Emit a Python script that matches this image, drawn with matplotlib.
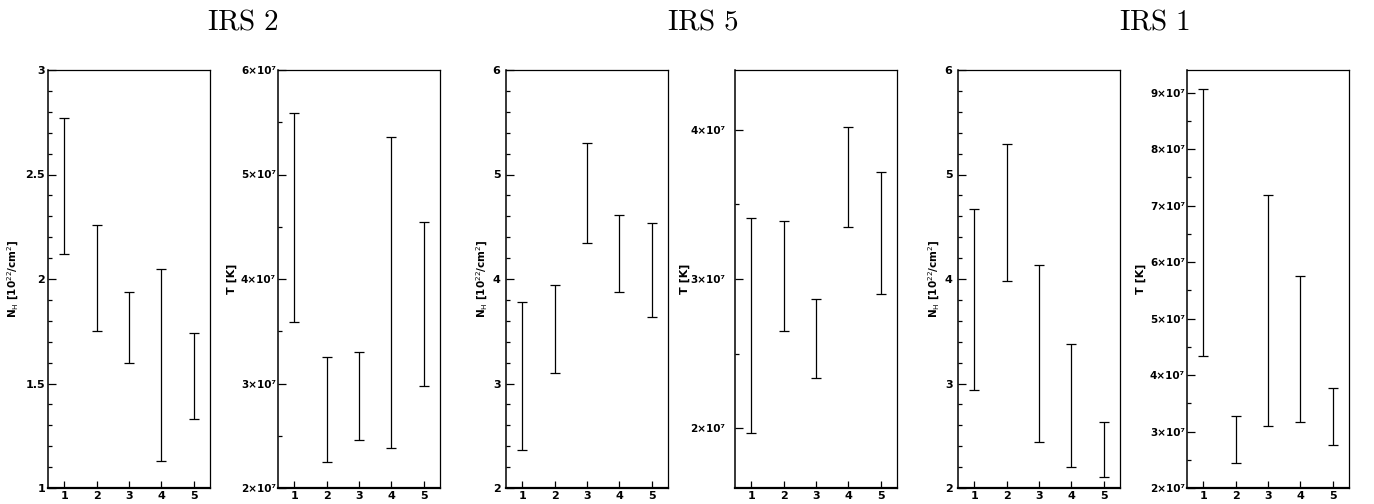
import matplotlib
matplotlib.use("Agg")
import matplotlib.pyplot as plt
from matplotlib.ticker import MultipleLocator, FuncFormatter
import numpy as np

plt.rcParams['mathtext.fontset'] = 'dejavusans'

spectra = [1, 2, 3, 4, 5]

# IRS 2
irs2_nh_hi = [2.77, 2.26, 1.94, 2.05, 1.74]
irs2_nh_lo = [2.12, 1.75, 1.60, 1.13, 1.33]
irs2_t_hi = [5.585e7, 3.25e7, 3.30e7, 5.36e7, 4.55e7]
irs2_t_lo = [3.59e7, 2.245e7, 2.455e7, 2.385e7, 2.98e7]

# IRS 5
irs5_nh_hi = [3.78, 3.94, 5.30, 4.61, 4.54]
irs5_nh_lo = [2.36, 3.10, 4.34, 3.88, 3.64]
irs5_t_hi = [3.41e7, 3.39e7, 2.865e7, 4.02e7, 3.72e7]
irs5_t_lo = [1.97e7, 2.65e7, 2.335e7, 3.345e7, 2.90e7]

# IRS 1
irs1_nh_hi = [4.67, 5.29, 4.13, 3.38, 2.63]
irs1_nh_lo = [2.94, 3.98, 2.44, 2.20, 2.105]
irs1_t_hi = [9.07e7, 3.28e7, 7.18e7, 5.76e7, 3.77e7]
irs1_t_lo = [4.34e7, 2.45e7, 3.09e7, 3.16e7, 2.77e7]

titles = ['IRS 2', 'IRS 5', 'IRS 1']

W, H = 1374, 504
fig = plt.figure(figsize=(W / 100, H / 100), dpi=100)

lefts = [48, 278, 506, 735, 958, 1187]
pw = 162
top, bottom = 70, 488

panels = [
    (irs2_nh_lo, irs2_nh_hi, 'nh', (1, 3), 0.5, 0.1, 2, 3),
    (irs2_t_lo, irs2_t_hi, 't', (2e7, 6e7), 1e7, 0.5e7, 1.5, 3),
    (irs5_nh_lo, irs5_nh_hi, 'nh', (2, 6), 1, 0.2, 4, 2),
    (irs5_t_lo, irs5_t_hi, 't', (1.6e7, 4.4e7), 1e7, 0.5e7, 7, 0),
    (irs1_nh_lo, irs1_nh_hi, 'nh', (2, 6), 1, 0.2, 4, 2),
    (irs1_t_lo, irs1_t_hi, 't', (2e7, 9.4e7), 1e7, 0.5e7, 1.5, 3),
]


def tfmt(v, pos):
    m = int(round(v / 1e7))
    return f'{m}\u00d710\u2077'


def nhfmt(v, pos):
    if abs(v - round(v)) < 1e-9:
        return f'{int(round(v))}'
    return f'{v:g}'


for i, (lo, hi, kind, ylim, major, minor, pad, lpad) in enumerate(panels):
    ax = fig.add_axes([lefts[i] / W, (H - bottom) / H, pw / W, (bottom - top) / H])
    lo = np.array(lo)
    hi = np.array(hi)
    mid = (lo + hi) / 2
    err = (hi - lo) / 2
    ax.errorbar(spectra, mid, yerr=err, fmt='none', ecolor='black',
                elinewidth=0.9, capsize=3.9, capthick=0.9)
    ax.set_xlim(0.5, 5.5)
    ax.set_ylim(*ylim)
    ax.set_xticks(spectra)
    ax.yaxis.set_major_locator(MultipleLocator(major))
    ax.yaxis.set_minor_locator(MultipleLocator(minor))
    ax.tick_params(axis='x', which='both', direction='in', top=False,
                   length=5, width=0.9, pad=2.5, labelsize=8)
    ax.tick_params(axis='y', which='major', direction='in', right=False,
                   length=5.5, width=0.9, pad=pad, labelsize=7.5 if kind == 't' else 8)
    ax.tick_params(axis='y', which='minor', direction='in', right=False,
                   length=3, width=0.9)
    for lab in ax.get_xticklabels() + ax.get_yticklabels():
        lab.set_fontweight('bold')
    if kind == 't':
        ax.yaxis.set_major_formatter(FuncFormatter(tfmt))
        ax.set_ylabel('T [K]', fontsize=8, fontweight='bold', labelpad=lpad)
    else:
        ax.yaxis.set_major_formatter(FuncFormatter(nhfmt))
        ax.set_ylabel(r'N$_{\rm H}$ [10$^{22}$/cm$^{2}$]', fontsize=7.5,
                      fontweight='bold', labelpad=lpad)
    ax.spines['bottom'].set_linewidth(1.6)
    ax.spines['left'].set_linewidth(1.1)
    ax.spines['top'].set_linewidth(0.9)
    ax.spines['right'].set_linewidth(0.9)

title_x = [243, 703, 1155]
for tx, t in zip(title_x, titles):
    fig.text(tx / W, (H - 22) / H, r'$\mathrm{' + t.replace(' ', r'\ ') + '}$',
             ha='center', va='center', fontsize=21, math_fontfamily='cm')

fig.savefig('out.png', dpi=100)
